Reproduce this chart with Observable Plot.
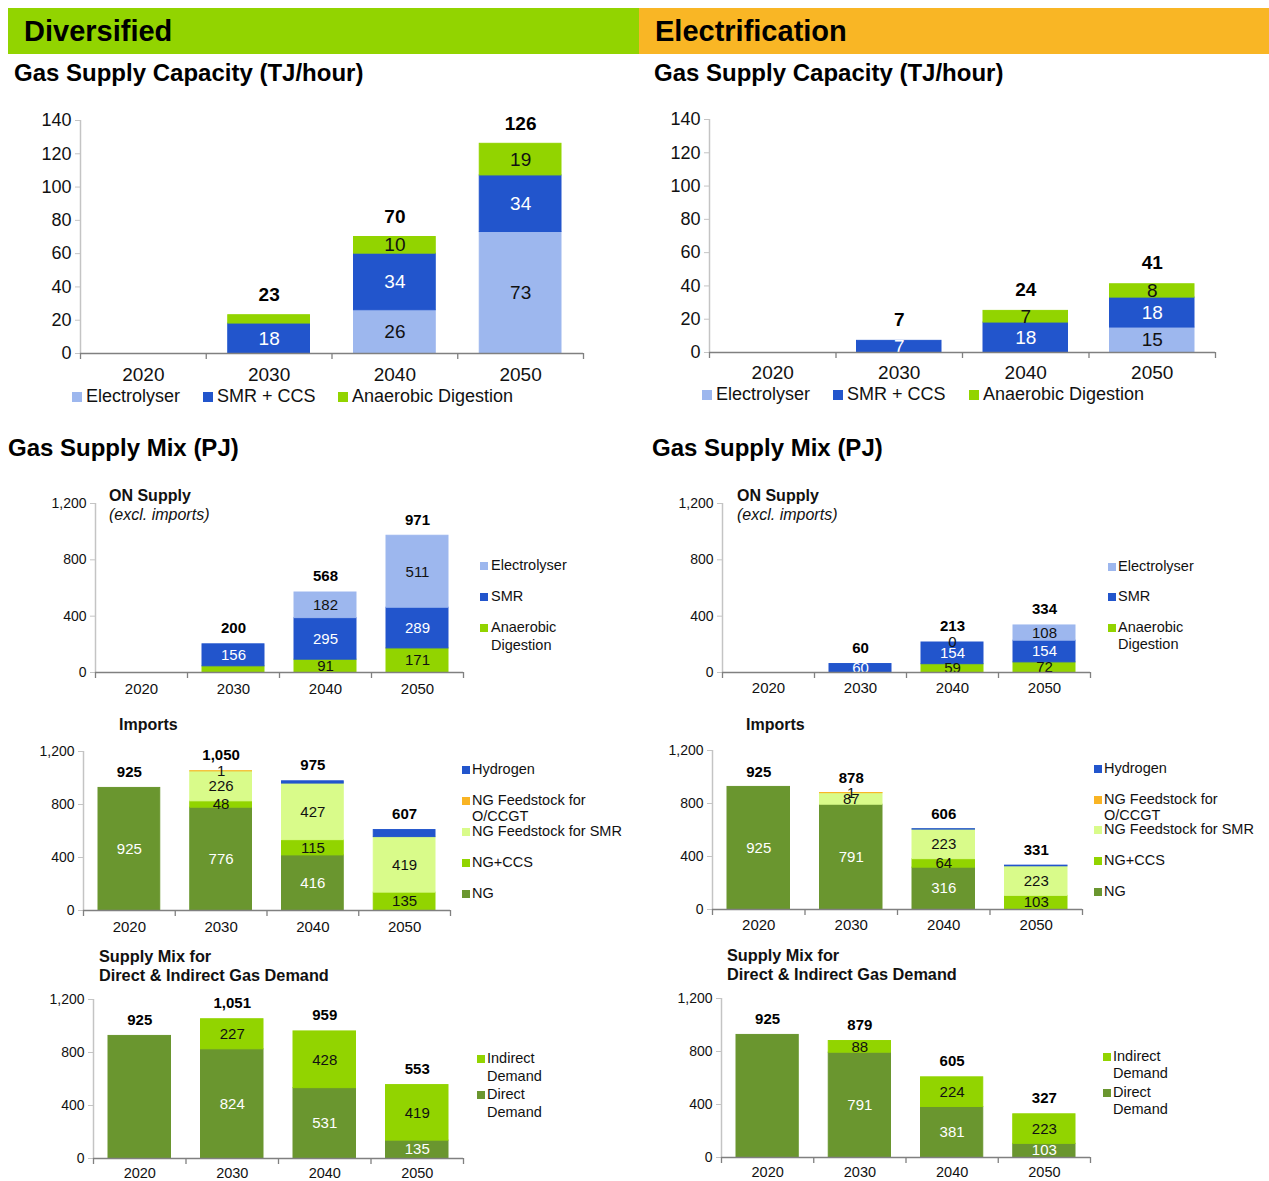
<!DOCTYPE html>
<html>
<head>
<meta charset="utf-8">
<script src="https://cdn.jsdelivr.net/npm/d3@7"></script>
<script src="https://cdn.jsdelivr.net/npm/@observablehq/plot@0.6"></script>
<style>
  html, body { margin: 0; padding: 0; background: #fff; }
  #root { position: relative; width: 1269px; height: 1181px; overflow: hidden; background: #fff;
          font-family: "Liberation Sans", Arial, sans-serif; color: #111; }
  .abs { position: absolute; white-space: nowrap; }
  .plotbox { position: absolute; }
  .plotbox svg { overflow: visible; max-width: none; }
</style>
</head>
<body>
<div id="root"></div>
<script>
// ---------------- DATA ----------------
const years = ["2020", "2030", "2040", "2050"];

// Gas Supply Capacity (TJ/hour)
const capLegend = ["Electrolyser", "SMR + CCS", "Anaerobic Digestion"];
const divCapElectrolyser = [0, 0, 26, 73];
const divCapSMR = [0, 18, 34, 34];
const divCapAD = [0, 5, 10, 19];
const divCapTotal = [null, 23, 70, 126];
const elecCapElectrolyser = [0, 0, 0, 15];
const elecCapSMR = [0, 7, 18, 18];
const elecCapAD = [0, 0, 7, 8];
const elecCapTotal = [null, 7, 24, 41];

// Gas Supply Mix (PJ) - ON Supply (excl. imports)
const onLegend = ["Electrolyser", "SMR", "Anaerobic|Digestion"];
const divOnElectrolyser = [0, 0, 182, 511];
const divOnSMR = [0, 156, 295, 289];
const divOnAD = [0, 44, 91, 171];
const divOnTotal = [null, 200, 568, 971];
const elecOnElectrolyser = [0, 0, 0, 108];
const elecOnSMR = [0, 60, 154, 154];
const elecOnAD = [0, 0, 59, 72];
const elecOnTotal = [null, 60, 213, 334];

// Imports (PJ)
const impLegend = ["Hydrogen", "NG Feedstock for|O/CCGT", "NG Feedstock for SMR", "NG+CCS", "NG"];
const divImpNG = [925, 776, 416, 0];
const divImpNGCCS = [0, 48, 115, 135];
const divImpSMRFeed = [0, 226, 427, 419];
const divImpOCCGT = [0, 1, 0, 0];
const divImpHydrogen = [0, 0, 17, 53];
const divImpTotal = [925, 1050, 975, 607];
const elecImpNG = [925, 791, 316, 0];
const elecImpNGCCS = [0, 0, 64, 103];
const elecImpSMRFeed = [0, 87, 223, 223];
const elecImpOCCGT = [0, 1, 0, 0];
const elecImpHydrogen = [0, 0, 3, 5];
const elecImpTotal = [925, 878, 606, 331];

// Supply Mix for Direct & Indirect Gas Demand (PJ)
const mixLegend = ["Indirect|Demand", "Direct|Demand"];
const divMixDirect = [925, 824, 531, 135];
const divMixIndirect = [0, 227, 428, 419];
const divMixTotal = [925, 1051, 959, 553];
const elecMixDirect = [925, 791, 381, 103];
const elecMixIndirect = [0, 88, 224, 223];
const elecMixTotal = [925, 879, 605, 327];

// ---------------- STYLE ----------------
const C = {
  green: "#92d400", orange: "#f9b625",
  elec: "#9db7ee", smr: "#2255cc", ad: "#92d400",
  ng: "#6a962f", ngccs: "#92d400", feed: "#d9fb8a", occgt: "#f9b424", h2: "#2255cc",
  direct: "#6a962f", indirect: "#92d400"
};
const FONT = "Liberation Sans, Arial, sans-serif";
const root = document.getElementById("root");
const fmt = d3.format(",");

function box(x, y, w, h, bg) {
  const d = document.createElement("div");
  d.className = "abs";
  Object.assign(d.style, {left: x + "px", top: y + "px", width: w + "px", height: h + "px", background: bg});
  root.appendChild(d);
  return d;
}
function txt(content, x, yc, size, opts = {}) {
  const d = document.createElement("div");
  d.className = "abs";
  d.textContent = content;
  const lh = size * 1.2;
  Object.assign(d.style, {
    left: x + "px", top: (yc - lh / 2) + "px", fontSize: size + "px", lineHeight: lh + "px",
    fontWeight: opts.bold ? "bold" : "normal", fontStyle: opts.italic ? "italic" : "normal",
    color: opts.color || "#111"
  });
  root.appendChild(d);
  return d;
}
function legendItem(label, color, sqx, tx, yc, size, sq, lh) {
  box(sqx, yc - sq / 2, sq, sq, color);
  label.split("|").forEach((line, k) => txt(line, tx, yc + k * lh, size));
}

function stackChart(cfg) {
  const {L, R, T, B, ymax, yticks, series, totals, inset, fs, tickFs, yearFs, yearDy, totalDy,
         hide = [], force = []} = cfg;
  const mL = 60, mR = 10, mT = 40, mB = 30;
  const rows = [], labels = [], tops = [];
  years.forEach((yr, i) => {
    let acc = 0;
    series.forEach((s, k) => {
      const v = s.values[i];
      const y1 = acc, y2 = acc + v;
      acc = y2;
      if (v > 0) rows.push({i, y1, y2, color: s.color});
      const hidden = s.nolabel || hide.some(([a, b]) => a === k && b === i);
      const forced = force.some(([a, b]) => a === k && b === i);
      if ((v > 0 && !hidden) || forced) labels.push({i, y: (y1 + y2) / 2, text: String(v), color: s.text});
    });
    if (totals[i] != null) tops.push({i, top: acc, t: totals[i]});
  });
  const plot = Plot.plot({
    width: mL + (R - L) + mR, height: mT + (B - T) + mB,
    marginLeft: mL, marginRight: mR, marginTop: mT, marginBottom: mB,
    x: {domain: [0, years.length], axis: null},
    y: {domain: [0, ymax], axis: null},
    color: {type: "identity"},
    style: {fontFamily: FONT, overflow: "visible", maxWidth: "none", background: "transparent"},
    marks: [
      Plot.ruleX([0], {stroke: "#c4c4c4", strokeWidth: 1.5}),
      Plot.axisY({ticks: yticks, tickSize: 5, tickPadding: 4, stroke: "#c4c4c4", fill: "#111",
                  fontSize: tickFs, tickFormat: fmt}),
      Plot.rect(rows, {x1: d => d.i, x2: d => d.i + 1, y1: "y1", y2: "y2", fill: "color", stroke: "color",
                       strokeWidth: 1, insetLeft: inset, insetRight: inset}),
      Plot.text(labels, {x: d => d.i + 0.5, y: "y", text: "text", fill: "color", fontSize: fs}),
      Plot.text(tops, {x: d => d.i + 0.5, y: "top", text: d => fmt(d.t), dy: totalDy, fill: "#000",
                       fontWeight: "bold", fontSize: fs}),
      Plot.ruleY([0], {stroke: "#808080", strokeWidth: 1.6}),
      Plot.axisX({ticks: d3.range(years.length + 1), tickSize: 6, tickFormat: () => "", stroke: "#808080",
                  strokeWidth: 1.3}),
      Plot.text(years, {x: (d, i) => i + 0.5, frameAnchor: "bottom", lineAnchor: "middle", dy: yearDy,
                        fontSize: yearFs, fill: "#111"})
    ]
  });
  const holder = document.createElement("div");
  holder.className = "plotbox";
  Object.assign(holder.style, {left: (L - mL) + "px", top: (T - mT) + "px",
                               width: (mL + (R - L) + mR) + "px", height: (mT + (B - T) + mB) + "px"});
  holder.appendChild(plot);
  root.appendChild(holder);
}

// ---------------- HEADERS & TITLES ----------------
box(8, 8, 631, 46, C.green);
box(639, 8, 630, 46, C.orange);
txt("Diversified", 24, 31, 29, {bold: true, color: "#000"});
txt("Electrification", 655, 31, 29, {bold: true, color: "#000"});
txt("Gas Supply Capacity (TJ/hour)", 14, 73, 24, {bold: true, color: "#000"});
txt("Gas Supply Capacity (TJ/hour)", 654, 73, 24, {bold: true, color: "#000"});
txt("Gas Supply Mix (PJ)", 8, 448, 24, {bold: true, color: "#000"});
txt("Gas Supply Mix (PJ)", 652, 448, 24, {bold: true, color: "#000"});

txt("ON Supply", 109, 496, 16, {bold: true});
txt("(excl. imports)", 109, 515, 16, {italic: true});
txt("ON Supply", 737, 496, 16, {bold: true});
txt("(excl. imports)", 737, 515, 16, {italic: true});
txt("Imports", 119, 725, 16, {bold: true});
txt("Imports", 746, 725, 16, {bold: true});
txt("Supply Mix for", 99, 957, 16.3, {bold: true});
txt("Direct & Indirect Gas Demand", 99, 976, 16.3, {bold: true});
txt("Supply Mix for", 727, 956, 16.3, {bold: true});
txt("Direct & Indirect Gas Demand", 727, 975, 16.3, {bold: true});

// ---------------- CHARTS ----------------
const capTicks = d3.range(0, 141, 20);
const pjTicks = [0, 400, 800, 1200];

stackChart({L: 80, R: 583, T: 120, B: 353, ymax: 140, yticks: capTicks, inset: 22,
  fs: 19, tickFs: 18, yearFs: 19, yearDy: 21, totalDy: -20,
  series: [
    {values: divCapElectrolyser, color: C.elec, text: "#111"},
    {values: divCapSMR, color: C.smr, text: "#fff"},
    {values: divCapAD, color: C.ad, text: "#111"}],
  totals: divCapTotal, hide: [[2, 1]]});

stackChart({L: 709, R: 1215, T: 119, B: 352, ymax: 140, yticks: capTicks, inset: 21,
  fs: 19, tickFs: 18, yearFs: 19, yearDy: 20, totalDy: -21,
  series: [
    {values: elecCapElectrolyser, color: C.elec, text: "#111"},
    {values: elecCapSMR, color: C.smr, text: "#fff"},
    {values: elecCapAD, color: C.ad, text: "#111"}],
  totals: elecCapTotal});

stackChart({L: 95, R: 463, T: 503, B: 672, ymax: 1200, yticks: pjTicks, inset: 15,
  fs: 15, tickFs: 14, yearFs: 15, yearDy: 17, totalDy: -16,
  series: [
    {values: divOnAD, color: C.ad, text: "#111"},
    {values: divOnSMR, color: C.smr, text: "#fff"},
    {values: divOnElectrolyser, color: C.elec, text: "#111"}],
  totals: divOnTotal, hide: [[0, 1]]});

stackChart({L: 722, R: 1090, T: 503, B: 672, ymax: 1200, yticks: pjTicks, inset: 15,
  fs: 15, tickFs: 14, yearFs: 15, yearDy: 16, totalDy: -16,
  series: [
    {values: elecOnAD, color: C.ad, text: "#111"},
    {values: elecOnSMR, color: C.smr, text: "#fff"},
    {values: elecOnElectrolyser, color: C.elec, text: "#111"}],
  totals: elecOnTotal, force: [[2, 2]]});

stackChart({L: 83, R: 450, T: 751, B: 910, ymax: 1200, yticks: pjTicks, inset: 15,
  fs: 15, tickFs: 14, yearFs: 15, yearDy: 17, totalDy: -16,
  series: [
    {values: divImpNG, color: C.ng, text: "#fff"},
    {values: divImpNGCCS, color: C.ngccs, text: "#111"},
    {values: divImpSMRFeed, color: C.feed, text: "#111"},
    {values: divImpOCCGT, color: C.occgt, text: "#111"},
    {values: divImpHydrogen, color: C.h2, text: "#fff", nolabel: true}],
  totals: divImpTotal});

stackChart({L: 712, R: 1082, T: 750, B: 909, ymax: 1200, yticks: pjTicks, inset: 15,
  fs: 15, tickFs: 14, yearFs: 15, yearDy: 16, totalDy: -15,
  series: [
    {values: elecImpNG, color: C.ng, text: "#fff"},
    {values: elecImpNGCCS, color: C.ngccs, text: "#111"},
    {values: elecImpSMRFeed, color: C.feed, text: "#111"},
    {values: elecImpOCCGT, color: C.occgt, text: "#111"},
    {values: elecImpHydrogen, color: C.h2, text: "#fff", nolabel: true}],
  totals: elecImpTotal});

stackChart({L: 93, R: 463, T: 999, B: 1158, ymax: 1200, yticks: pjTicks, inset: 15,
  fs: 15, tickFs: 14, yearFs: 14.5, yearDy: 14.5, totalDy: -16,
  series: [
    {values: divMixDirect, color: C.direct, text: "#fff"},
    {values: divMixIndirect, color: C.indirect, text: "#111"}],
  totals: divMixTotal, hide: [[0, 0]]});

stackChart({L: 721, R: 1090, T: 998, B: 1157, ymax: 1200, yticks: pjTicks, inset: 15,
  fs: 15, tickFs: 14, yearFs: 14.5, yearDy: 15, totalDy: -16,
  series: [
    {values: elecMixDirect, color: C.direct, text: "#fff"},
    {values: elecMixIndirect, color: C.indirect, text: "#111"}],
  totals: elecMixTotal, hide: [[0, 0]]});

// ---------------- LEGENDS ----------------
const capColors = [C.elec, C.smr, C.ad];
[[72, 86], [203, 217], [338, 352]].forEach(([sx, tx], k) =>
  legendItem(capLegend[k], capColors[k], sx, tx, 397, 18, 10, 20));
[[702, 716], [833, 847], [969, 983]].forEach(([sx, tx], k) =>
  legendItem(capLegend[k], capColors[k], sx, tx, 395, 18, 10, 20));

const onColors = [C.elec, C.smr, C.ad];
[566, 597, 628].forEach((y, k) => legendItem(onLegend[k], onColors[k], 480, 491, y, 14.5, 8, 18));
[567, 597, 628].forEach((y, k) => legendItem(onLegend[k], onColors[k], 1108, 1118, y, 14.5, 8, 17));

const impColors = [C.h2, C.occgt, C.feed, C.ngccs, C.ng];
[770, 801, 832, 863, 894].forEach((y, k) => legendItem(impLegend[k], impColors[k], 462, 472, y, 14.5, 8, 16));
[769, 800, 830, 861, 892].forEach((y, k) => legendItem(impLegend[k], impColors[k], 1094, 1104, y, 14.5, 8, 16));

const mixColors = [C.indirect, C.direct];
[1059, 1095].forEach((y, k) => legendItem(mixLegend[k], mixColors[k], 477, 487, y, 14.5, 8, 17.5));
[1057, 1093].forEach((y, k) => legendItem(mixLegend[k], mixColors[k], 1103, 1113, y, 14.5, 8, 17));
</script>
</body>
</html>
